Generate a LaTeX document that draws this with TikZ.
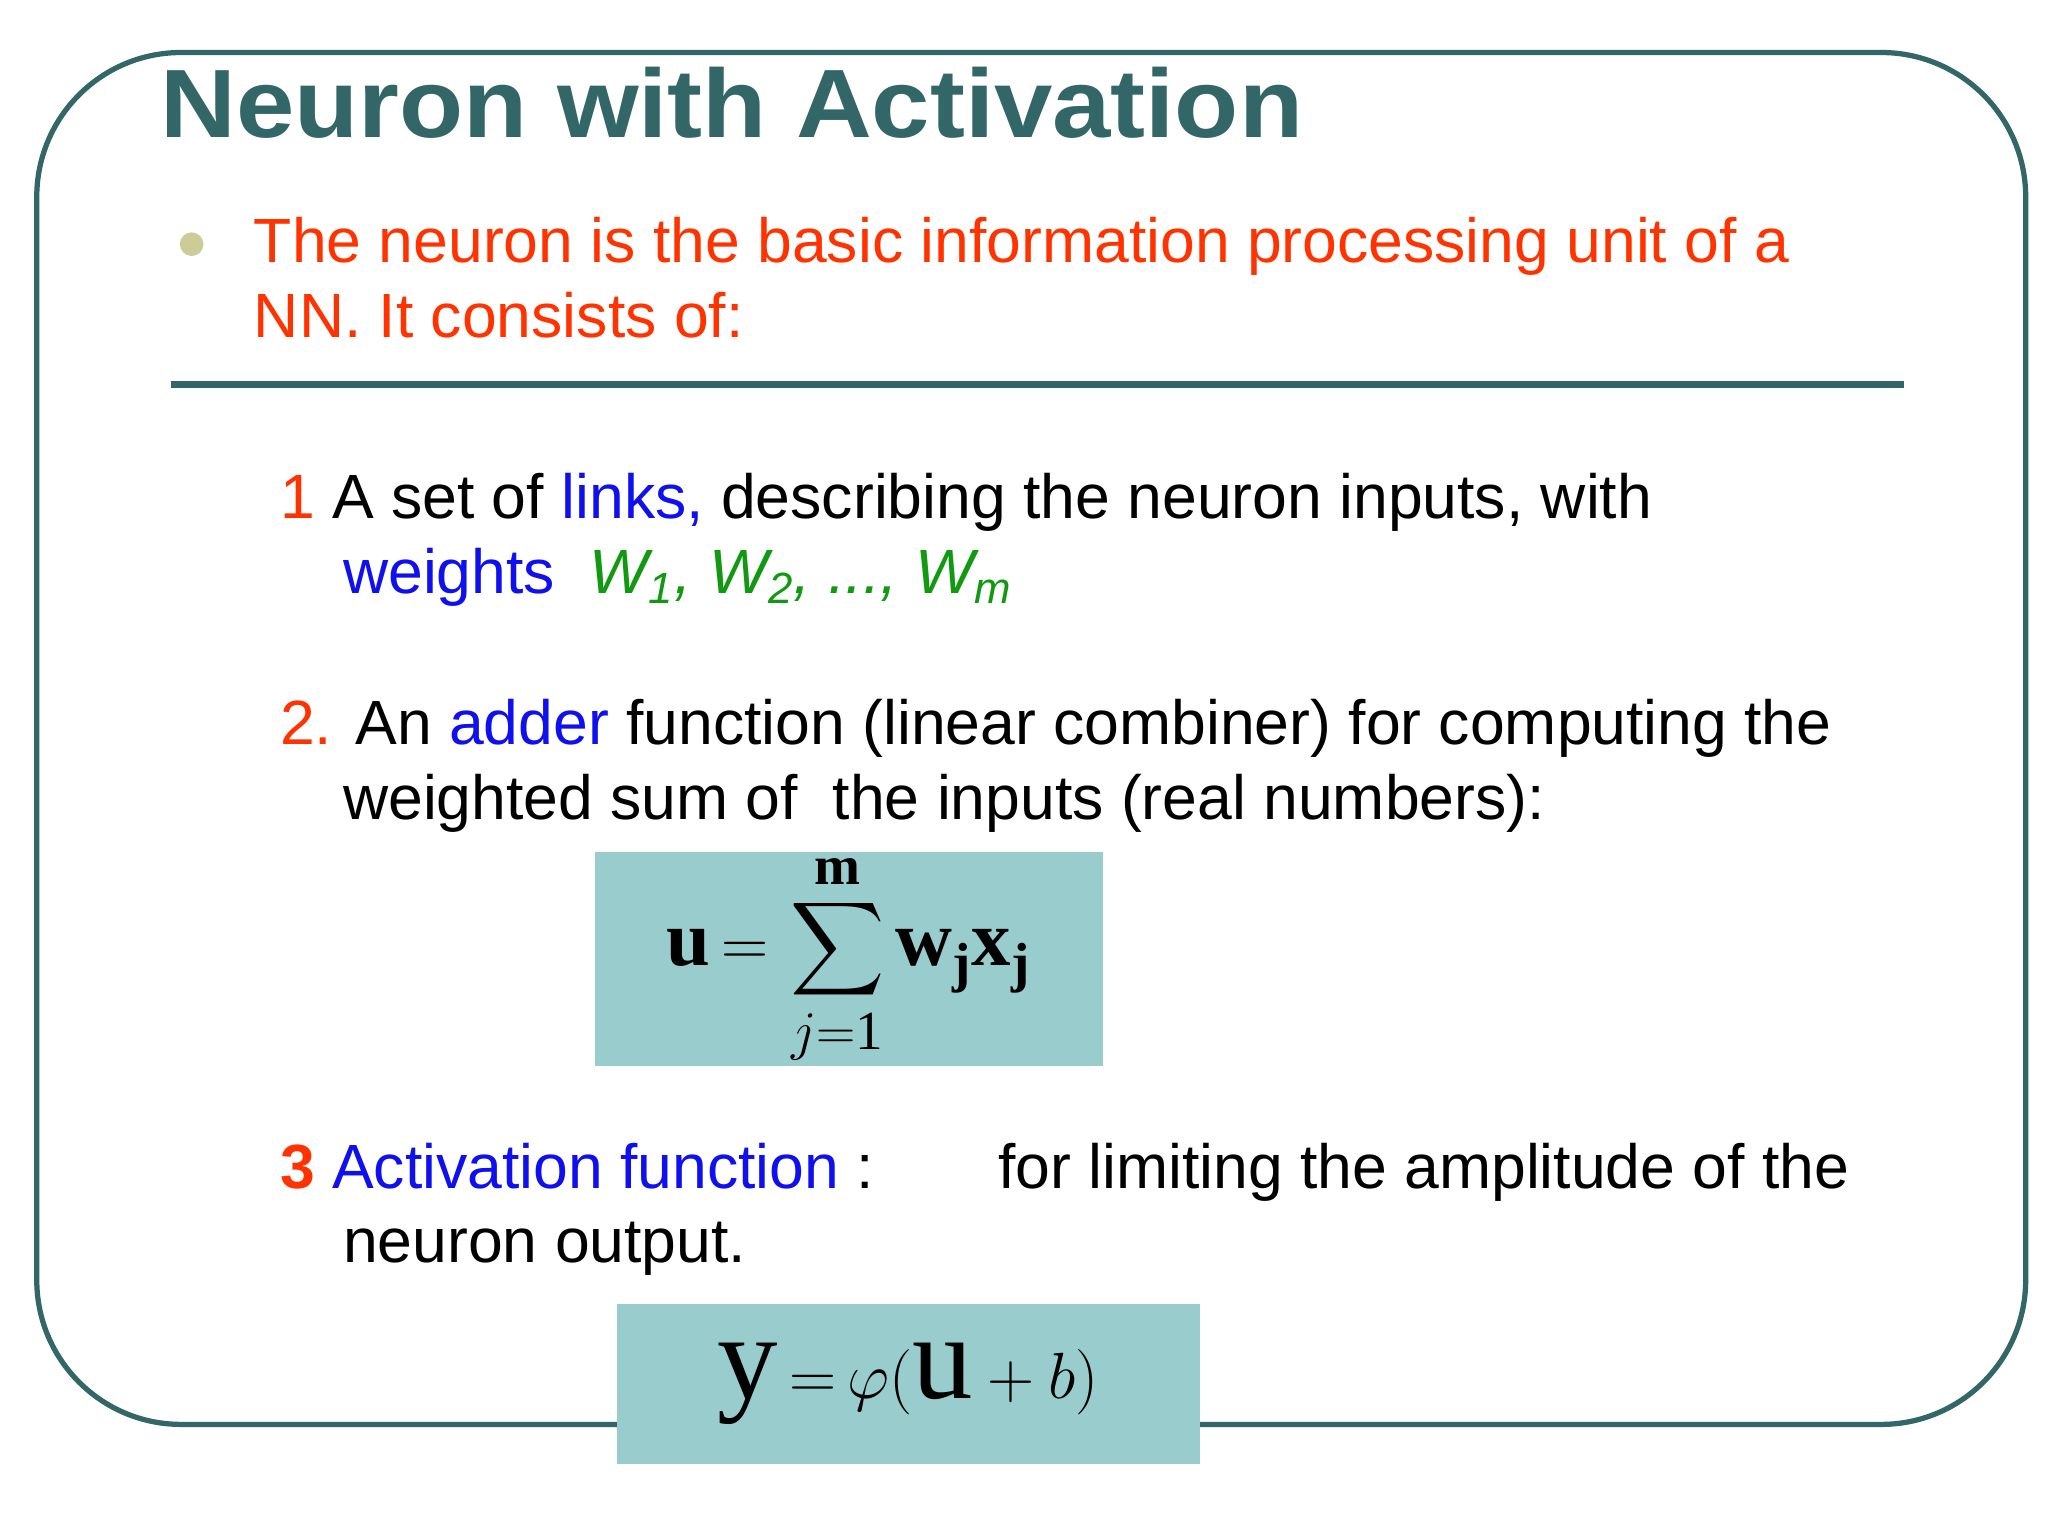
\documentclass[tikz,border=0pt]{standalone}
\usepackage{fontspec}
\setmainfont{Liberation Sans}
\newfontfamily\serifb{Liberation Serif}
\usepackage{amsmath}
\newcommand{\bsr}[1]{\text{\serifb\bfseries #1}}
\newcommand{\rsr}[1]{\text{\serifb #1}}
\definecolor{teal1}{HTML}{336666}
\definecolor{boxc}{HTML}{99CCCC}
\definecolor{redo}{HTML}{FF3300}
\definecolor{blu}{HTML}{1010EE}
\definecolor{grn}{HTML}{119911}
\definecolor{dotc}{HTML}{CCCC99}
\tikzset{txt/.style={anchor=base west,inner sep=0pt,font=\fontsize{23.8}{27}\selectfont}}
\begin{document}
\begin{tikzpicture}[x=0.5pt,y=-0.5pt]
\useasboundingbox (0,0) rectangle (1560,1170);
\fill[white] (0,0) rectangle (1560,1170);
\draw[teal1,line width=2pt,rounded corners=55pt] (28,40) rectangle (1543,1085);
\node[anchor=base west,inner sep=0pt,text=teal1,xscale=1.08,font=\fontsize{37}{40}\bfseries\selectfont] (title) at (122,105) {Neuron with Activation};
\fill[dotc] (146,186) circle (9);
\node[txt,text=redo] (b1) at (193,200) {The neuron is the basic information processing unit of a};
\node[txt,text=redo] (b2) at (193,257) {NN. It consists of:};
\draw[teal1,line width=2.5pt] (130,293) -- (1450,293);
\node[txt] (i1) at (213,395) {\textcolor{redo}{1} A set of \textcolor{blu}{links,} describing the neuron inputs, with};
\node[txt] (i1b) at (261,452) {\textcolor{blu}{weights}\ \ \textcolor{grn}{\itshape W\textsubscript{1}, W\textsubscript{2}, ..., W\textsubscript{m}}};
\node[txt] (i2) at (213,567) {\textcolor{redo}{2.} An \textcolor{blu}{adder} function (linear combiner) for computing the};
\node[txt] (i2b) at (261,624) {weighted sum of\ \ the inputs (real numbers):};
\node[fill=boxc,minimum width=193.5pt,minimum height=77.5pt,inner sep=0pt] (f1) at (646.5,730.5) {\fontsize{30}{34}\selectfont$\displaystyle\bsr{u}\,{=}\,\sum_{j=\rsr{1}}^{\bsr{m}}\bsr{w}_{\bsr{j}}\bsr{x}_{\bsr{j}}$};
\node[txt] (i3) at (213,905) {\textcolor{redo}{\bfseries 3} \textcolor{blu}{Activation function} :};
\node[txt] (i3r) at (760,905) {for limiting the amplitude of the};
\node[txt] (i3b) at (261,962) {neuron output.};
\node[fill=boxc,minimum width=222pt,minimum height=61pt,inner sep=0pt] (f2) at (692,1054) {\fontsize{46}{50}\selectfont$\rsr{y}\,{=}\,\varphi(\rsr{u}+b)$};
\end{tikzpicture}
\end{document}
